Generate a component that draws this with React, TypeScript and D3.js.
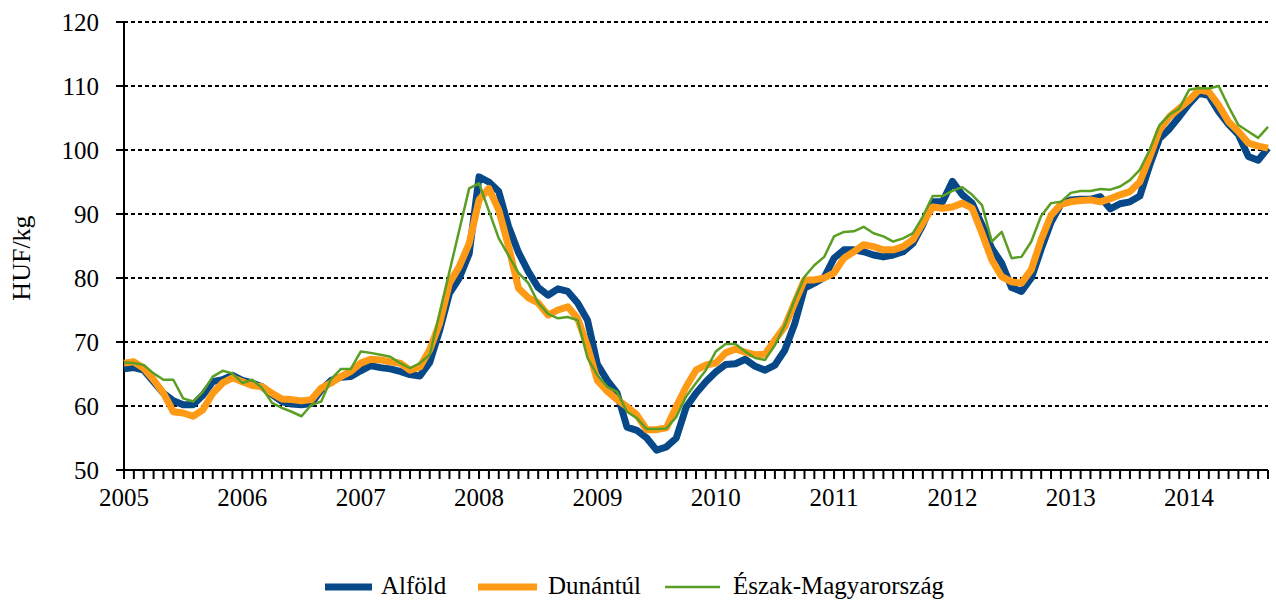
import React from "react";
import * as d3 from "d3";

const yearLabels = ["2005","2006","2007","2008","2009","2010","2011","2012","2013","2014"];
const yTicks = [50, 60, 70, 80, 90, 100, 110, 120];
const seriesNames = ["Alföld", "Dunántúl", "Észak-Magyarország"];

// monthly values, Jan 2005 .. Sep 2014 (117 months)
const alfold = [
  65.8, 66.0, 65.6, 63.8, 62.0, 60.8, 60.2, 60.2, 61.7, 63.8, 64.1, 64.8,
  64.0, 63.6, 63.0, 61.8, 60.7, 60.3, 60.2, 60.4, 62.5, 64.0, 64.5, 64.6,
  65.5, 66.3, 66.0, 65.8, 65.4, 64.9, 64.7, 66.8, 71.8, 77.6, 80.0, 83.8,
  95.8, 95.0, 93.5, 88.0, 84.0, 81.0, 78.5, 77.3, 78.3, 77.9, 76.1, 73.4,
  66.5, 64.0, 62.0, 56.7, 56.2, 55.0, 53.1, 53.6, 55.0, 59.8, 62.0, 63.8,
  65.3, 66.5, 66.6, 67.3, 66.2, 65.6, 66.4, 68.7, 72.8, 78.4, 79.2, 80.1,
  83.1, 84.4, 84.4, 84.1, 83.6, 83.3, 83.6, 84.1, 85.4, 88.3, 91.9, 91.9,
  95.1, 93.0, 91.7, 88.3, 84.6, 82.3, 78.5, 77.9, 80.0, 84.5, 88.7, 91.5,
  92.2, 92.3, 92.3, 92.7, 90.8, 91.6, 91.9, 92.8, 97.6, 101.8, 103.3, 105.2,
  107.2, 108.9, 108.5, 106.0, 104.0, 102.4, 99.0, 98.4, 100.3
];
const dunantul = [
  66.7, 66.9, 65.9, 64.1, 62.0, 59.1, 58.9, 58.4, 59.4, 62.0, 63.6, 64.4,
  63.8, 63.2, 63.0, 62.0, 61.1, 61.0, 60.8, 61.0, 62.8, 63.6, 64.6, 65.4,
  66.7, 67.3, 67.2, 66.9, 66.7, 65.6, 66.1, 68.8, 72.9, 79.2, 81.8, 85.4,
  92.2, 94.0, 90.6, 84.9, 78.4, 76.9, 76.1, 74.2, 75.0, 75.5, 73.7, 69.3,
  64.0, 62.3, 61.0, 59.9, 58.6, 56.3, 56.3, 56.6, 59.9, 63.0, 65.6, 66.4,
  66.7, 68.3, 68.9, 68.4, 68.0, 68.1, 70.3, 72.4, 76.1, 79.7, 79.7, 80.0,
  80.8, 83.1, 84.1, 85.2, 84.9, 84.4, 84.4, 84.9, 86.0, 88.6, 91.1, 90.9,
  91.1, 91.7, 90.9, 87.0, 82.8, 80.2, 79.4, 79.2, 81.3, 86.0, 89.8, 91.5,
  91.9, 92.1, 92.2, 91.9, 92.4, 93.0, 93.5, 95.0, 98.9, 103.1, 105.2, 106.5,
  107.8, 109.4, 109.1, 107.0, 104.4, 102.9, 101.1, 100.6, 100.3
];
const eszak = [
  66.8, 66.7, 66.4, 65.1, 64.1, 64.1, 61.2, 60.7, 62.2, 64.6, 65.5, 65.1,
  63.6, 64.1, 62.8, 60.5, 59.7, 59.1, 58.4, 60.2, 60.7, 64.2, 65.8, 65.8,
  68.5, 68.3, 68.0, 67.7, 66.7, 65.9, 66.7, 68.0, 74.5, 81.0, 87.5, 94.0,
  94.8, 90.5, 86.2, 83.5, 80.8, 79.2, 76.1, 74.4, 73.7, 73.9, 73.4, 67.5,
  64.8, 63.0, 62.2, 59.1, 58.1, 56.4, 56.4, 56.5, 58.3, 61.5, 63.6, 65.6,
  68.5, 69.7, 69.7, 68.5, 67.5, 67.2, 69.5, 72.6, 76.6, 80.2, 82.0, 83.3,
  86.5, 87.2, 87.3, 88.0, 87.0, 86.5, 85.7, 86.2, 87.0, 89.6, 92.8, 92.8,
  93.6, 94.2, 93.0, 91.4, 85.7, 87.2, 83.1, 83.3, 85.7, 89.7, 91.7, 91.9,
  93.3, 93.6, 93.6, 93.9, 93.8, 94.3, 95.3, 96.9, 100.0, 103.9, 105.5, 106.5,
  109.4, 109.7, 109.6, 110.0, 106.8, 103.9, 102.9, 101.9, 103.6
];

const W = 1276;
const H = 601;
const left = 124;
const right = 1268;
const top = 22;
const bottom = 470;
const FONT = "'Liberation Serif', 'Times New Roman', serif";

const colors = ["#074889", "#FF9A17", "#5A9E23"];
const widths = [7, 7, 2.5];

export default function App() {
  const n = alfold.length;
  const x = d3.scaleLinear().domain([0, n - 1]).range([left, right]);
  const y = d3.scaleLinear().domain([50, 120]).range([bottom, top]);
  const line = d3
    .line<number>()
    .x((_, i) => x(i))
    .y((d) => y(d));
  const series = [alfold, dunantul, eszak];
  const monthIdx = d3.range(n);

  const legendItems = [
    { sx: 325, ex: 372, tx: 381 },
    { sx: 478, ex: 537, tx: 548 },
    { sx: 665, ex: 720, tx: 733 },
  ];
  const legendY = 585;

  return (
    <svg
      width={W}
      height={H}
      style={{ position: "absolute", left: 0, top: 0, background: "#fff" }}
      fontFamily={FONT}
    >
      {/* gridlines */}
      {yTicks
        .filter((t) => t > 50)
        .map((t) => (
          <line
            key={"g" + t}
            x1={left}
            x2={right}
            y1={y(t)}
            y2={y(t)}
            stroke="#000"
            strokeWidth={2}
            strokeDasharray="4,3"
          />
        ))}
      {/* y axis */}
      <line x1={left} x2={left} y1={top} y2={bottom} stroke="#000" strokeWidth={2} />
      {yTicks.map((t) => (
        <g key={"yt" + t}>
          <line x1={left - 8} x2={left} y1={y(t)} y2={y(t)} stroke="#000" strokeWidth={2} />
          <text
            x={left - 25}
            y={y(t)}
            dy="0.35em"
            textAnchor="end"
            fontSize={25}
            fill="#000"
          >
            {t}
          </text>
        </g>
      ))}
      {/* x axis */}
      <line x1={left} x2={right} y1={bottom} y2={bottom} stroke="#000" strokeWidth={2} />
      {monthIdx.map((i) => (
        <line
          key={"xt" + i}
          x1={x(i)}
          x2={x(i)}
          y1={bottom}
          y2={bottom + 9}
          stroke="#000"
          strokeWidth={2}
        />
      ))}
      {yearLabels.map((lab, k) => (
        <text
          key={"xl" + lab}
          x={x(k * 12)}
          y={506}
          textAnchor="middle"
          fontSize={25}
          fill="#000"
        >
          {lab}
        </text>
      ))}
      {/* axis title */}
      <text
        transform={`translate(30,258) rotate(-90)`}
        textAnchor="middle"
        fontSize={26}
        fill="#000"
      >
        HUF/kg
      </text>
      {/* series */}
      {series.map((s, k) => (
        <path
          key={"s" + k}
          d={line(s) || ""}
          fill="none"
          stroke={colors[k]}
          strokeWidth={widths[k]}
          strokeLinejoin="round"
        />
      ))}
      {/* legend */}
      {legendItems.map((it, k) => (
        <g key={"lg" + k}>
          <line
            x1={it.sx}
            x2={it.ex}
            y1={legendY + 2}
            y2={legendY + 2}
            stroke={colors[k]}
            strokeWidth={widths[k]}
          />
          <text x={it.tx} y={legendY} dy="0.35em" fontSize={25} fill="#000">
            {seriesNames[k]}
          </text>
        </g>
      ))}
    </svg>
  );
}
